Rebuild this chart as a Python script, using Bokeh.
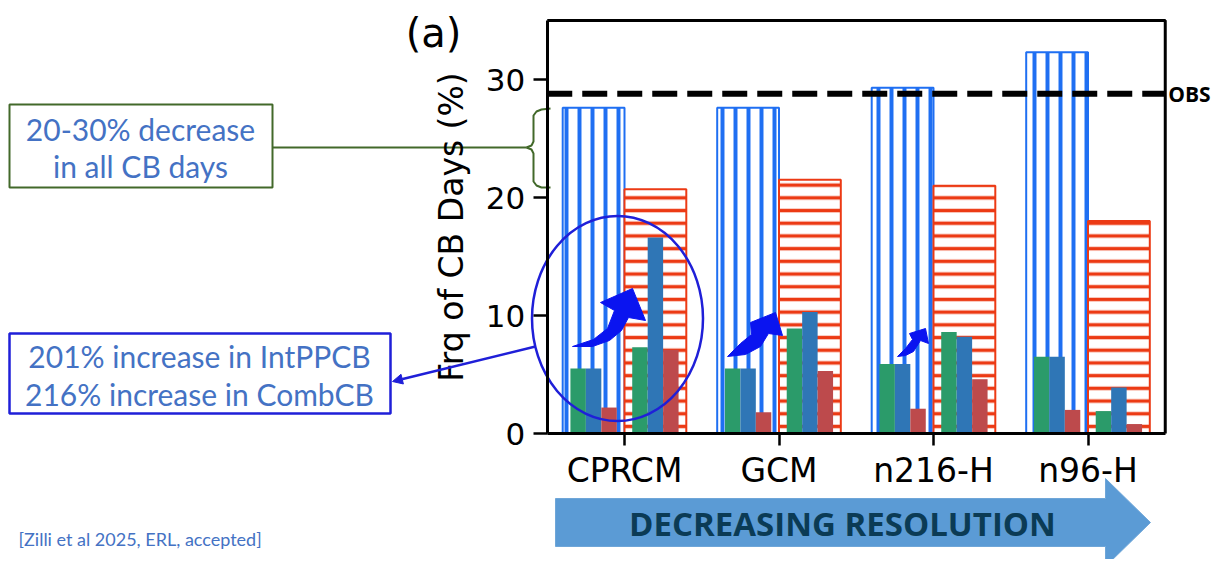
from bokeh.plotting import figure
from bokeh.models import Range1d, LinearAxis, FixedTicker, Arrow, NormalHead, Label
from bokeh.embed import file_html
from bokeh.resources import INLINE

# ---------------- data ----------------
categories = ["CPRCM", "GCM", "n216-H", "n96-H"]
all_cb_days = [27.6, 27.6, 29.3, 32.3]        # blue hatched bars
other_cb_days = [20.7, 21.5, 21.0, 18.0]      # red hatched bars
green_a = [5.5, 5.5, 5.9, 6.5]
blue_a = [5.5, 5.5, 5.9, 6.5]
red_a = [2.2, 1.8, 2.1, 2.0]
green_b = [7.3, 8.9, 8.6, 1.9]
blue_b = [16.6, 10.3, 8.2, 3.9]
red_b = [7.1, 5.3, 4.6, 0.8]
obs_value = 28.8
y_ticks = [0, 10, 20, 30]
y_max = 35

# ---------------- geometry (page pixels) ----------------
W, H = 1211, 559
M = 0
X0, DX = 624.0, 154.5     # page x of first category, px per category
Y0, DY = 433.0, 11.8      # page y of value 0, px per unit

p = figure(width=W, height=H, output_backend="svg", toolbar_location=None,
           x_axis_location=None, y_axis_location=None, min_border=0,
           x_range=Range1d(M, M + W), y_range=Range1d(M + H, M))
p.outline_line_color = None
p.grid.visible = False
p.background_fill_color = "white"
p.border_fill_color = "white"

p.extra_x_ranges = {"bx": Range1d((M - X0) / DX, (M + W - X0) / DX)}
p.extra_y_ranges = {"by": Range1d((Y0 - (M + H)) / DY, (Y0 - M) / DY)}

n = len(categories)
idx = list(range(n))
xlo, xhi = -0.5, n - 0.5

BLUE_H = "#1f6ff2"
RED_H = "#ec3a14"
GREEN = "#2b9b6a"
BLUE = "#2f76b6"
RED = "#bd4a4c"

# hatched bars
p.vbar(x=[i - 0.2 for i in idx], width=0.4, top=all_cb_days, bottom=0,
       x_range_name="bx", y_range_name="by",
       fill_color="white", line_color=BLUE_H, line_width=2,
       hatch_pattern="vertical_line", hatch_color=BLUE_H, hatch_weight=4, hatch_scale=13)
p.vbar(x=[i + 0.2 for i in idx], width=0.4, top=other_cb_days, bottom=0,
       x_range_name="bx", y_range_name="by",
       fill_color="white", line_color=RED_H, line_width=2,
       hatch_pattern="horizontal_line", hatch_color=RED_H, hatch_weight=3.5, hatch_scale=12.7)

# small solid bars
for vals, off, col in [(green_a, -0.3, GREEN), (blue_a, -0.2, BLUE), (red_a, -0.1, RED),
                       (green_b, 0.1, GREEN), (blue_b, 0.2, BLUE), (red_b, 0.3, RED)]:
    p.vbar(x=[i + off for i in idx], width=0.1, top=vals, bottom=0,
           x_range_name="bx", y_range_name="by",
           fill_color=col, line_color=None)

# OBS line
p.segment(x0=[xlo], x1=[xhi], y0=[obs_value], y1=[obs_value],
          x_range_name="bx", y_range_name="by",
          line_color="black", line_width=6, line_dash="25 10")
p.add_layout(Label(x=xhi, y=obs_value, x_range_name="bx", y_range_name="by",
                   x_offset=3, text="OBS", text_font="Open Sans", text_font_style="bold",
                   text_font_size="21px", text_baseline="middle", text_color="black"))

# frame top / right
p.line(x=[xlo, xhi, xhi], y=[y_max, y_max, 0], x_range_name="bx", y_range_name="by",
       line_color="black", line_width=3)

# axes
yax = LinearAxis(x_range_name="bx", y_range_name="by", fixed_location=xlo,
                 bounds=(0, y_max), ticker=FixedTicker(ticks=y_ticks))
xax = LinearAxis(x_range_name="bx", y_range_name="by", fixed_location=0,
                 bounds=(xlo, xhi), ticker=FixedTicker(ticks=idx),
                 major_label_overrides={i: c for i, c in zip(idx, categories)})
for ax in (yax, xax):
    ax.axis_line_width = 3
    ax.axis_line_color = "black"
    ax.major_tick_line_width = 2.5
    ax.major_tick_out = 14
    ax.major_tick_in = 0
    ax.minor_tick_line_color = None
    ax.major_label_text_font = "DejaVu Sans"
    ax.major_label_text_color = "black"
yax.major_label_text_font_size = "31px"
yax.major_label_standoff = 8
yax.axis_label = "Frq of CB Days (%)"
yax.axis_label_text_font = "DejaVu Sans"
yax.axis_label_text_font_size = "33px"
yax.axis_label_text_font_style = "normal"
yax.axis_label_text_color = "black"
yax.axis_label_standoff = 12
xax.major_label_text_font_size = "33px"
xax.major_label_standoff = 5
xax.major_tick_out = 12
p.add_layout(yax, "left")
p.add_layout(xax, "below")

# panel label
p.add_layout(Label(x=433, y=32, text="(a)", text_font="DejaVu Sans", text_font_size="40px",
                   text_align="center", text_baseline="middle", text_color="black"))

# ---------------- annotations (page coordinates) ----------------
TXT = "#4472c4"
GBOX = "#42692a"
BBOX = "#1f1fd8"
ARROWC = "#0a14f0"

# box 1
p.quad(left=9, right=272, top=104, bottom=187, fill_color="white", line_color=GBOX, line_width=2)
p.add_layout(Label(x=140, y=128, text="20-30% decrease", text_font="Lato", text_font_size="30px",
                   text_align="center", text_baseline="middle", text_color=TXT))
p.add_layout(Label(x=140, y=165, text="in all CB days", text_font="Lato", text_font_size="30px",
                   text_align="center", text_baseline="middle", text_color=TXT))
p.line(x=[272, 526], y=[147, 147], line_color=GBOX, line_width=2)
p.line(x=[550, 541, 536, 533, 533, 531, 526, 531, 533, 533, 536, 541, 550],
       y=[108, 109, 111, 115, 141, 145, 147, 149, 153, 181, 185, 187, 187],
       line_color=GBOX, line_width=2)

# box 2
p.quad(left=9, right=390, top=333, bottom=413, fill_color="white", line_color=BBOX, line_width=2.5)
p.add_layout(Label(x=199, y=355, text="201% increase in IntPPCB", text_font="Lato", text_font_size="30px",
                   text_align="center", text_baseline="middle", text_color=TXT))
p.add_layout(Label(x=199, y=393, text="216% increase in CombCB", text_font="Lato", text_font_size="30px",
                   text_align="center", text_baseline="middle", text_color=TXT))
p.add_layout(Arrow(end=NormalHead(size=10, fill_color=BBOX, line_color=BBOX),
                   x_start=535, y_start=346, x_end=392, y_end=381,
                   line_color=BBOX, line_width=2.5))

# ellipse
p.ellipse(x=617, y=318, width=171, height=205, fill_color=None, line_color=BBOX, line_width=2.5)

# curved arrows
p.patch(x=[572, 593, 607, 614, 600, 632, 645, 628, 621, 609, 592],
        y=[346, 339, 328, 310, 302, 288, 320, 317, 330, 340, 346], color=ARROWC)
p.patch(x=[727, 740, 751, 750, 775, 782, 768, 760, 745],
        y=[356, 343, 334, 322, 312, 335, 333, 346, 354], color=ARROWC)
p.patch(x=[897, 905, 912, 909, 925, 928, 920, 913, 905],
        y=[356, 348, 339, 333, 328, 343, 340, 351, 355], color=ARROWC)

# big arrow
p.patch(x=[555, 1105, 1105, 1150, 1105, 1105, 555],
        y=[498, 498, 478, 522, 566, 546, 546], fill_color="#5b9bd5", line_color="#6fa6d8", line_width=1)
p.add_layout(Label(x=842, y=523, text="DECREASING RESOLUTION", text_font="Open Sans",
                   text_font_style="bold", text_font_size="33px", text_align="center",
                   text_baseline="middle", text_color="#0b3b55"))

# citation
p.add_layout(Label(x=18, y=538, text="[Zilli et al 2025, ERL, accepted]", text_font="Lato",
                   text_font_size="18px", text_align="left", text_baseline="middle", text_color=TXT))

open("out.html", "w").write(file_html(p, INLINE))
